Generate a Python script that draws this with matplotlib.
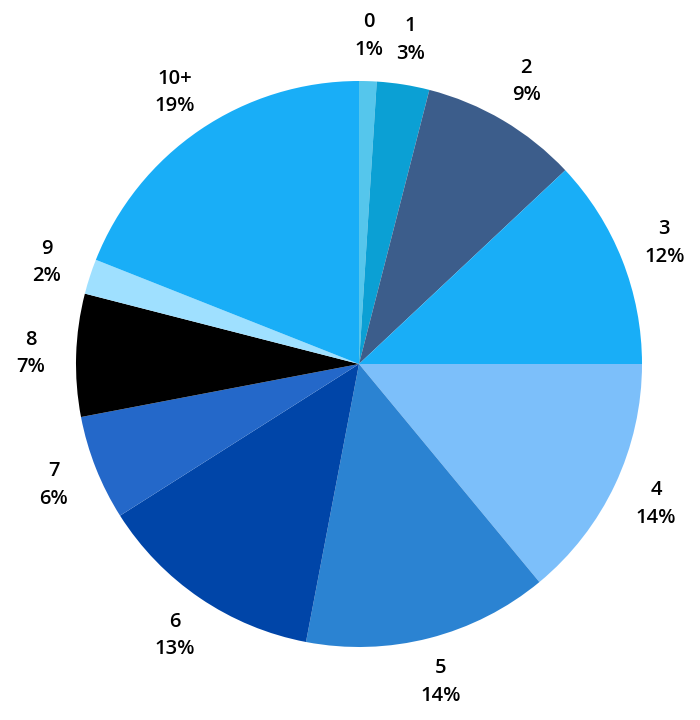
import numpy as np
import matplotlib
matplotlib.use("Agg")
import matplotlib.pyplot as plt

categories = ["0", "1", "2", "3", "4", "5", "6", "7", "8", "9", "10+"]
values = [1, 3, 9, 12, 14, 14, 13, 6, 7, 2, 19]
colors = ["#55c6ec", "#0ba0d4", "#3c5d8b", "#19aef7", "#7cbffa", "#2b83d2",
          "#0045a8", "#2468c9", "#000000", "#9fe0ff", "#19aef7"]

W, H = 700, 720
cx, cy, R = 359, 364, 283

fig = plt.figure(figsize=(W / 100, H / 100), dpi=100)
ax = fig.add_axes([0, 0, 1, 1])
wedges, _ = ax.pie(values, colors=colors, startangle=90, counterclock=False,
                   radius=1.0, wedgeprops=dict(linewidth=0))
ax.set_xlim(-cx / R, (W - cx) / R)
ax.set_ylim(-(H - cy) / R, cy / R)
ax.set_aspect("auto")
ax.axis("off")

total = sum(values)
for w, cat, v in zip(wedges, categories, values):
    mid = np.deg2rad((w.theta1 + w.theta2) / 2)
    d = 1.16
    x, y = d * np.cos(mid), d * np.sin(mid)
    ax.text(x, y, f"{cat}\n{round(100 * v / total)}%", ha="center", va="center",
            fontsize=14.5, fontweight="semibold", linespacing=1.5, color="#000000",
            family=["Open Sans", "DejaVu Sans"])

fig.savefig("out.png", dpi=100)
